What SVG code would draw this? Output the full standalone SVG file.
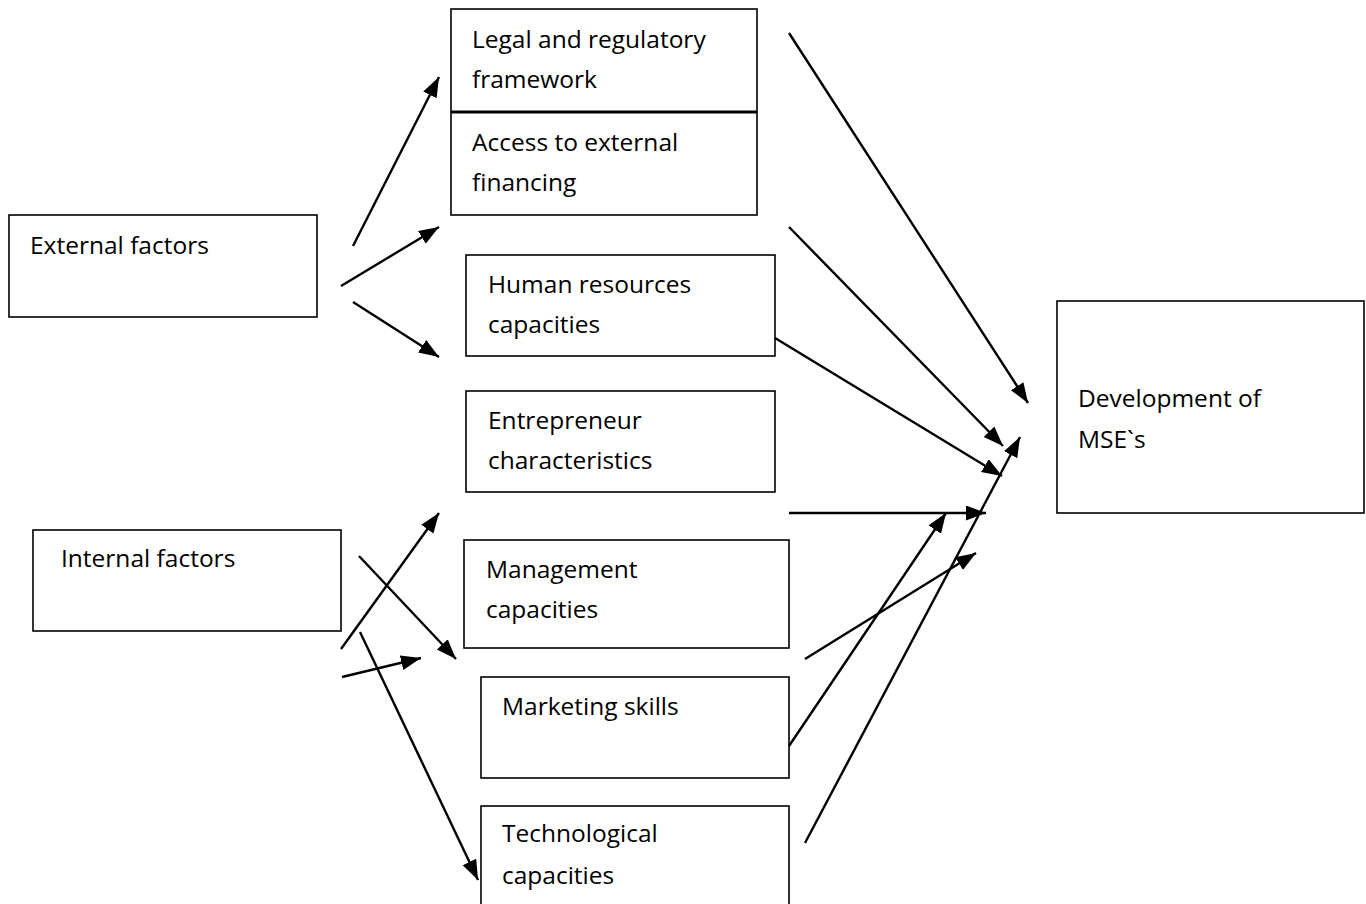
<svg xmlns="http://www.w3.org/2000/svg" width="1366" height="904" viewBox="0 0 1366 904">
  <style>
    .box { fill: #ffffff; stroke: #000000; stroke-width: 1.6; }
    .lbl { font-family: "Open Sans", "Liberation Sans", Arial, sans-serif; font-size: 24.5px; fill: #000000; }
    .link { stroke: #000000; stroke-width: 2.4; fill: none; marker-end: url(#head); }
  </style>
  <defs>
    <marker id="head" markerUnits="userSpaceOnUse" markerWidth="22" markerHeight="16" refX="20" refY="7.5" orient="auto">
      <path d="M0,0 L20,7.5 L0,15 z" fill="#000000"/>
    </marker>
  </defs>
  <rect width="1366" height="904" fill="#ffffff"/>

  <!-- factor groups on the left -->
  <g id="external-factors">
    <rect class="box" x="9" y="215" width="308" height="102"/>
    <text class="lbl" x="30" y="254">External factors</text>
  </g>
  <g id="internal-factors">
    <rect class="box" x="33" y="530" width="308" height="101"/>
    <text class="lbl" x="61" y="567">Internal factors</text>
  </g>

  <!-- individual factors in the middle column -->
  <g id="legal-access">
    <rect class="box" x="451" y="9" width="306" height="206"/>
    <line x1="451" y1="112" x2="757" y2="112" stroke="#000000" stroke-width="3"/>
    <text class="lbl" x="472" y="48">Legal and regulatory</text>
    <text class="lbl" x="472" y="88">framework</text>
    <text class="lbl" x="472" y="151">Access to external</text>
    <text class="lbl" x="472" y="191">financing</text>
  </g>
  <g id="human-resources">
    <rect class="box" x="466" y="255" width="309" height="101"/>
    <text class="lbl" x="488" y="293">Human resources</text>
    <text class="lbl" x="488" y="333">capacities</text>
  </g>
  <g id="entrepreneur">
    <rect class="box" x="466" y="391" width="309" height="101"/>
    <text class="lbl" x="488" y="429">Entrepreneur</text>
    <text class="lbl" x="488" y="469">characteristics</text>
  </g>
  <g id="management">
    <rect class="box" x="464" y="540" width="325" height="108"/>
    <text class="lbl" x="486" y="578">Management</text>
    <text class="lbl" x="486" y="618">capacities</text>
  </g>
  <g id="marketing">
    <rect class="box" x="481" y="677" width="308" height="101"/>
    <text class="lbl" x="502" y="715">Marketing skills</text>
  </g>
  <g id="technological">
    <rect class="box" x="481" y="806" width="308" height="102"/>
    <text class="lbl" x="502" y="842">Technological</text>
    <text class="lbl" x="502" y="884">capacities</text>
  </g>

  <!-- outcome -->
  <g id="development">
    <rect class="box" x="1057" y="301" width="307" height="212"/>
    <text class="lbl" x="1078" y="407">Development of</text>
    <text class="lbl" x="1078" y="448">MSE`s</text>
  </g>

  <g id="connectors">
    <!-- external factors fan-out -->
    <line class="link" x1="353" y1="246" x2="439" y2="77"/>
    <line class="link" x1="341" y1="286" x2="439" y2="227"/>
    <line class="link" x1="353" y1="302" x2="439" y2="357"/>
    <!-- internal factors fan-out -->
    <line class="link" x1="341" y1="649" x2="439" y2="513"/>
    <line class="link" x1="359" y1="556" x2="456" y2="659"/>
    <line class="link" x1="342" y1="677" x2="421" y2="658"/>
    <line class="link" x1="360" y1="632" x2="478" y2="880"/>
    <!-- factors into development -->
    <line class="link" x1="789" y1="33" x2="1028" y2="403"/>
    <line class="link" x1="789" y1="227" x2="1003" y2="446"/>
    <line class="link" x1="775" y1="338" x2="1002" y2="476"/>
    <line class="link" x1="789" y1="513" x2="986" y2="513"/>
    <line class="link" x1="789" y1="746" x2="946" y2="513"/>
    <line class="link" x1="805" y1="659" x2="976" y2="553"/>
    <line class="link" x1="805" y1="843" x2="1020" y2="437"/>
  </g>
</svg>
